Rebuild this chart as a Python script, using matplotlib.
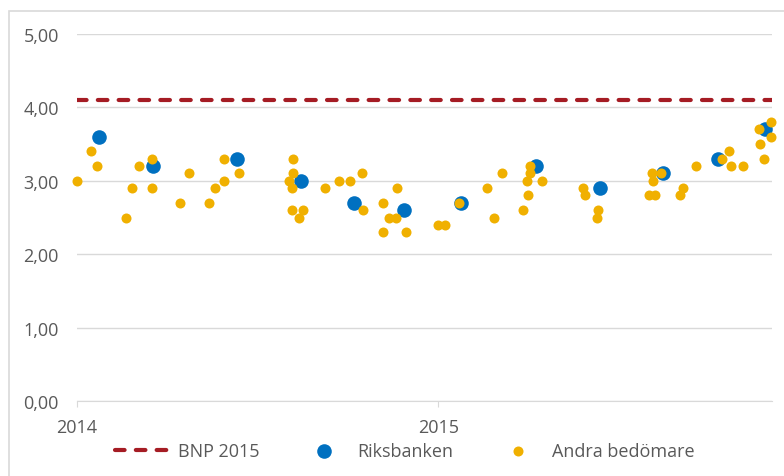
import matplotlib.pyplot as plt
import matplotlib.patches as patches
import pandas as pd

# BNP-prognos 2015
bnp_level = 4.1

riks_dates = ['2014-01-23', '2014-03-19', '2014-06-12', '2014-08-15', '2014-10-08',
              '2014-11-27', '2015-01-24', '2015-04-10', '2015-06-13', '2015-08-16',
              '2015-10-10', '2015-11-27']
riks_vals = [3.6, 3.2, 3.3, 3.0, 2.7, 2.6, 2.7, 3.2, 2.9, 3.1, 3.3, 3.7]

andra_dates = ['2014-01-01', '2014-01-15', '2014-01-21', '2014-02-19', '2014-02-26',
               '2014-03-05', '2014-03-18', '2014-03-18', '2014-04-15', '2014-04-24',
               '2014-05-14', '2014-05-20', '2014-05-29', '2014-05-29',
               '2014-06-14', '2014-08-03', '2014-08-07', '2014-08-07', '2014-08-06',
               '2014-08-06', '2014-08-13', '2014-08-17', '2014-09-09', '2014-09-23',
               '2014-10-04', '2014-10-16', '2014-10-17', '2014-11-06', '2014-11-06',
               '2014-11-12', '2014-11-19', '2014-11-20', '2014-11-29', '2015-01-01',
               '2015-01-08', '2015-01-22', '2015-02-19', '2015-02-26', '2015-03-06',
               '2015-03-27', '2015-04-01', '2015-04-02', '2015-04-04', '2015-04-04',
               '2015-04-16', '2015-05-27', '2015-05-29', '2015-06-10', '2015-06-11',
               '2015-08-02', '2015-08-05', '2015-08-06', '2015-08-08', '2015-08-14',
               '2015-09-02', '2015-09-05', '2015-09-18', '2015-10-14', '2015-10-22',
               '2015-10-24', '2015-11-05', '2015-11-21', '2015-11-22', '2015-11-26',
               '2015-12-03', '2015-12-03']
andra_vals = [3.0, 3.4, 3.2, 2.5, 2.9,
              3.2, 2.9, 3.3, 2.7, 3.1,
              2.7, 2.9, 3.3, 3.0,
              3.1, 3.0, 3.3, 3.1, 2.9,
              2.6, 2.5, 2.6, 2.9, 3.0,
              3.0, 3.1, 2.6, 2.7, 2.3,
              2.5, 2.5, 2.9, 2.3, 2.4,
              2.4, 2.7, 2.9, 2.5, 3.1,
              2.6, 3.0, 2.8, 3.1, 3.2,
              3.0, 2.9, 2.8, 2.5, 2.6,
              2.8, 3.1, 3.0, 2.8, 3.1,
              2.8, 2.9, 3.2, 3.3, 3.4,
              3.2, 3.2, 3.7, 3.5, 3.3,
              3.8, 3.6]

year_ticks = ['2014-01-01', '2015-01-01']
year_labels = ['2014', '2015']
y_ticks = [0, 1, 2, 3, 4, 5]

txt = '#595959'
grid_c = '#d9d9d9'
plt.rcParams['font.family'] = ['Open Sans', 'DejaVu Sans']

fig = plt.figure(figsize=(7.84, 4.77), dpi=100)
# ram runt hela diagrammet (syns bara till vänster och upptill)
fig.patches.append(patches.Rectangle((9 / 784, -0.1), 1.2, 1.1 - 12 / 477,
                                     transform=fig.transFigure, fill=False,
                                     edgecolor=grid_c, lw=1.2))
ax = fig.add_axes([77 / 784, 1 - 402 / 477, (772 - 77) / 784, (402 - 35) / 477])

x0 = pd.Timestamp('2014-01-01')
x1 = pd.Timestamp('2015-12-04')
bnp, = ax.plot([x0, x1], [bnp_level, bnp_level], color='#a51c24', lw=3,
               linestyle=(0, (2.3, 2.7)), dash_capstyle='round', label='BNP 2015', zorder=3)
rb = ax.scatter(pd.to_datetime(riks_dates), riks_vals, s=110, color='#0070c0',
                label='Riksbanken', zorder=4, clip_on=False, linewidths=0)
ab = ax.scatter(pd.to_datetime(andra_dates), andra_vals, s=52, color='#f0b000',
                label='Andra bedömare', zorder=5, clip_on=False, linewidths=0)

ax.set_xlim(x0, x1)
ax.set_ylim(0, 5)
ax.set_yticks(y_ticks)
ax.set_yticklabels([f'{v:.2f}'.replace('.', ',') for v in y_ticks])
ax.set_xticks(pd.to_datetime(year_ticks))
ax.set_xticklabels(year_labels)
ax.grid(axis='y', color=grid_c, lw=1)
ax.set_axisbelow(True)
for s in ['top', 'right', 'left']:
    ax.spines[s].set_visible(False)
ax.spines['bottom'].set_color(grid_c)
ax.tick_params(axis='y', length=0, pad=13, labelsize=13, labelcolor=txt)
ax.tick_params(axis='x', length=4, color=grid_c, pad=8, labelsize=13, labelcolor=txt)

fig.legend(handles=[bnp, rb, ab], loc='center', bbox_to_anchor=(405 / 784, 1 - 452 / 477),
           ncol=3, frameon=False, fontsize=13, labelcolor=txt, handlelength=3.15,
           handletextpad=0.3, columnspacing=2.0, scatterpoints=1)

fig.savefig('out.png', dpi=100)
